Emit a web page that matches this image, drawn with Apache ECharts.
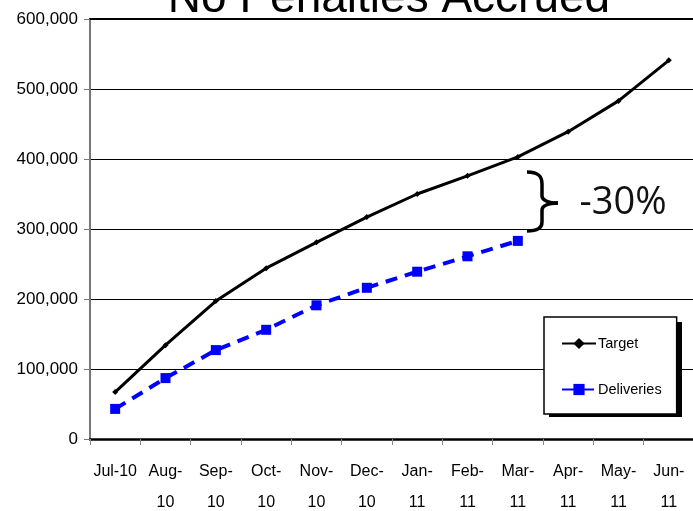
<!DOCTYPE html>
<html><head><meta charset="utf-8">
<script src="https://cdn.jsdelivr.net/npm/echarts@6/dist/echarts.min.js"></script>
<style>html,body{margin:0;padding:0;background:#fff}#c{width:693px;height:511px}</style>
</head><body><div id="c"></div>
<script>
const categories = ['Jul-10','Aug-\n10','Sep-\n10','Oct-\n10','Nov-\n10','Dec-\n10','Jan-\n11','Feb-\n11','Mar-\n11','Apr-\n11','May-\n11','Jun-\n11'];
const target = [67000,134000,197000,244000,281000,317000,350000,376000,403000,439000,483000,541000];
const deliveries = [43000,87000,127000,156000,191000,216000,239000,261000,283000];
const yTicks = [0,100000,200000,300000,400000,500000,600000];
const titleText = 'No Penalties Accrued';
const gapText = '-30%';

const SANS = '"Liberation Sans", Arial, sans-serif';
const braceStyle = {stroke:'#000',lineWidth:3.5,fill:null};
const chart = echarts.init(document.getElementById('c'), null, {renderer:'canvas'});
chart.setOption({
  animation:false,
  backgroundColor:'#fff',
  title:{text:titleText,left:384,textAlign:'center',top:-29,
    textStyle:{fontFamily:SANS,fontSize:46,fontWeight:'normal',color:'#000'}},
  grid:{left:90,top:19,width:604,height:420,containLabel:false,outerBoundsMode:'none'},
  legend:{orient:'vertical',left:544,top:317,z:20,
    backgroundColor:'#fff',borderColor:'#000',borderWidth:1.5,
    padding:[19,15,17,17],itemGap:31,itemWidth:34,itemHeight:14,
    textStyle:{fontFamily:SANS,fontSize:14.5,color:'#000',padding:[0,0,0,-3]},
    data:['Target','Deliveries']},
  xAxis:[{type:'category',data:categories,boundaryGap:true,
    axisLine:{lineStyle:{color:'#000',width:2.5}},
    axisTick:{show:true,length:6,lineStyle:{color:'#888',width:1}},
    axisLabel:{interval:0,margin:17,fontFamily:SANS,fontSize:16,color:'#000',lineHeight:31,verticalAlign:'top'},
    splitLine:{show:false}},
    {type:'category',data:categories,position:'top',boundaryGap:true,
    axisLine:{show:true,lineStyle:{color:'#000',width:2}},axisTick:{show:false},axisLabel:{show:false}}],
  yAxis:{type:'value',min:yTicks[0],max:yTicks[yTicks.length-1],interval:100000,
    axisLine:{show:true,lineStyle:{color:'#777',width:2}},
    axisTick:{show:true,length:6,lineStyle:{color:'#777',width:1}},
    axisLabel:{margin:12,fontFamily:SANS,fontSize:17,color:'#000',
      formatter:v=>v.toLocaleString('en-US')},
    splitLine:{show:true,lineStyle:{color:'#000',width:1}}},
  series:[
    {name:'Target',type:'line',data:target,color:'#000',
      lineStyle:{width:3,color:'#000'},symbol:'diamond',symbolSize:6,
      itemStyle:{color:'#000'},z:3},
    {name:'Deliveries',type:'line',data:deliveries,color:'#0000ff',
      lineStyle:{width:4,color:'#0000ff',type:[12,8]},symbol:'rect',symbolSize:10,
      itemStyle:{color:'#0000ff'},z:4}
  ],
  graphic:[
    {type:'rect',shape:{x:549,y:322,width:133,height:95},style:{fill:'#000'},z:10},
    {type:'bezierCurve',shape:{x1:527,y1:172,cpx1:538,cpy1:172,cpx2:542,cpy2:176,x2:542,y2:184},style:braceStyle,z:10},
    {type:'line',shape:{x1:542,y1:184,x2:542,y2:196},style:braceStyle,z:10},
    {type:'bezierCurve',shape:{x1:542,y1:196,cpx1:542,cpy1:200,cpx2:548,cpy2:203,x2:558,y2:203},style:braceStyle,z:10},
    {type:'bezierCurve',shape:{x1:558,y1:203,cpx1:548,cpy1:203,cpx2:542,cpy2:206,x2:542,y2:210},style:braceStyle,z:10},
    {type:'line',shape:{x1:542,y1:210,x2:542,y2:222},style:braceStyle,z:10},
    {type:'bezierCurve',shape:{x1:542,y1:222,cpx1:542,cpy1:228,cpx2:538,cpy2:231,x2:527,y2:231},style:braceStyle,z:10},
    {type:'text',x:623,y:203,style:{text:gapText,fontFamily:'"Open Sans", sans-serif',fontSize:38,fill:'#111',textAlign:'center',textVerticalAlign:'middle',verticalAlign:'middle'},z:10}
  ]
});
</script></body></html>
